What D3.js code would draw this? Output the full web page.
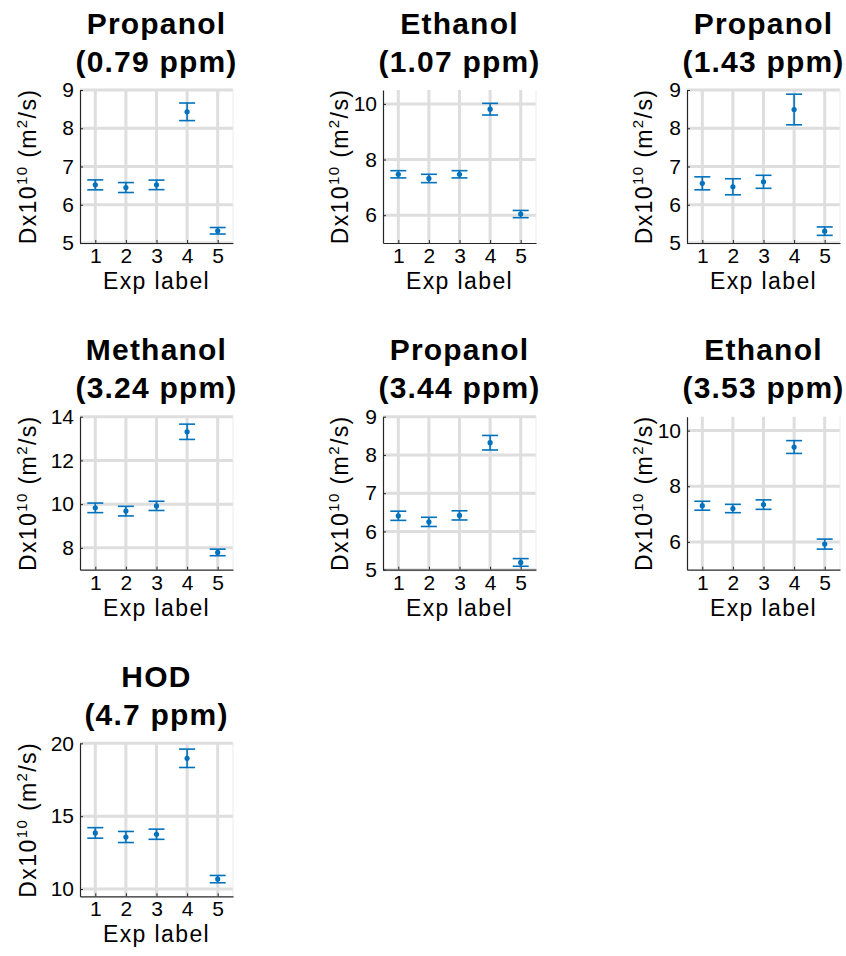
<!DOCTYPE html>
<html>
<head>
<meta charset="utf-8">
<script src="https://cdn.jsdelivr.net/npm/d3@7/dist/d3.min.js"></script>
<style>
  html, body { margin: 0; padding: 0; background: #fff; }
  svg { display: block; }
  text { font-family: "Liberation Sans", Arial, Helvetica, sans-serif; fill: #000; }
</style>
</head>
<body>
<svg id="chart" width="846" height="956"></svg>
<script>
// ---------- data ----------
const expLabels = [1, 2, 3, 4, 5];
const compounds = ["Propanol", "Ethanol", "Propanol", "Methanol", "Propanol", "Ethanol", "HOD"];
const shifts = ["(0.79 ppm)", "(1.07 ppm)", "(1.43 ppm)", "(3.24 ppm)", "(3.44 ppm)", "(3.53 ppm)", "(4.7 ppm)"];

const dPropanol079 = [6.52, 6.45, 6.52, 8.43, 5.32];
const ePropanol079 = [0.13, 0.13, 0.125, 0.23, 0.085];
const dEthanol107  = [7.47, 7.32, 7.47, 9.81, 6.04];
const eEthanol107  = [0.13, 0.15, 0.13, 0.21, 0.13];
const dPropanol143 = [6.56, 6.47, 6.60, 8.49, 5.31];
const ePropanol143 = [0.17, 0.21, 0.17, 0.40, 0.11];
const dMethanol324 = [9.83, 9.68, 9.92, 13.31, 7.79];
const eMethanol324 = [0.22, 0.22, 0.21, 0.35, 0.15];
const dPropanol344 = [6.41, 6.25, 6.42, 8.32, 5.19];
const ePropanol344 = [0.12, 0.12, 0.12, 0.19, 0.10];
const dEthanol353  = [7.30, 7.20, 7.34, 9.41, 5.92];
const eEthanol353  = [0.16, 0.15, 0.17, 0.23, 0.18];
const dHOD47       = [13.85, 13.57, 13.76, 18.97, 10.68];
const eHOD47       = [0.36, 0.38, 0.35, 0.63, 0.25];

const yDomains = [[5, 9], [5, 10.5], [5, 9], [7, 14], [5, 9], [5, 10.5], [9.5, 20]];
const yTicks = [[5, 6, 7, 8, 9], [6, 8, 10], [5, 6, 7, 8, 9], [8, 10, 12, 14], [5, 6, 7, 8, 9], [6, 8, 10], [10, 15, 20]];

const means = [dPropanol079, dEthanol107, dPropanol143, dMethanol324, dPropanol344, dEthanol353, dHOD47];
const errs  = [ePropanol079, eEthanol107, ePropanol143, eMethanol324, ePropanol344, eEthanol353, eHOD47];

// ---------- layout ----------
const colLeft = [80, 383, 687];
const rowTop = [90, 416.7, 743.3];
const W = 153, H = 153;
const ylabOffset = [52.5, 43, 43];
const blue = "#0072BD";
const gridColor = "#dedede";

const svg = d3.select("#chart");

compounds.forEach((name, i) => {
  const col = i % 3, row = Math.floor(i / 3);
  const left = colLeft[col], top = rowTop[row];
  const x = d3.scaleLinear().domain([0.5, 5.5]).range([left, left + W]);
  const y = d3.scaleLinear().domain(yDomains[i]).range([top + H, top]);
  const g = svg.append("g");

  // grid
  g.selectAll("line.vg").data(expLabels).enter().append("line")
    .attr("x1", d => x(d)).attr("x2", d => x(d))
    .attr("y1", top).attr("y2", top + H)
    .attr("stroke", gridColor).attr("stroke-width", 3);
  g.selectAll("line.hg").data(yTicks[i]).enter().append("line")
    .attr("x1", left).attr("x2", left + W)
    .attr("y1", d => y(d)).attr("y2", d => y(d))
    .attr("stroke", gridColor).attr("stroke-width", 3);
  // faint right edge
  g.append("line").attr("x1", left + W).attr("x2", left + W)
    .attr("y1", top).attr("y2", top + H)
    .attr("stroke", "#ececec").attr("stroke-width", 1);

  // axes
  const ax = g.append("g").attr("transform", `translate(0,${top + H})`)
    .call(d3.axisBottom(x).tickValues(expLabels).tickFormat(d3.format("d"))
      .tickSizeInner(-3).tickSizeOuter(0).tickPadding(5));
  const ay = g.append("g").attr("transform", `translate(${left},0)`)
    .call(d3.axisLeft(y).tickValues(yTicks[i]).tickFormat(d3.format("d"))
      .tickSizeInner(-3).tickSizeOuter(0).tickPadding(6));
  [ax, ay].forEach(a => {
    a.select(".domain").attr("stroke", "#262626").attr("stroke-width", 1.2);
    a.selectAll(".tick line").attr("stroke", "#262626");
    a.selectAll(".tick text").style("font-size", "21px")
      .style("font-family", "'Liberation Sans', Arial, sans-serif").attr("fill", "#262626");
  });

  // error bars
  const pts = expLabels.map((e, k) => ({ e, m: means[i][k], s: errs[i][k] }));
  const cap = 8;
  const eb = g.append("g").attr("stroke", blue).attr("stroke-width", 1.6).attr("fill", "none");
  eb.selectAll("line.v").data(pts).enter().append("line")
    .attr("x1", d => x(d.e)).attr("x2", d => x(d.e))
    .attr("y1", d => y(d.m + d.s)).attr("y2", d => y(d.m - d.s));
  eb.selectAll("line.t").data(pts).enter().append("line")
    .attr("x1", d => x(d.e) - cap).attr("x2", d => x(d.e) + cap)
    .attr("y1", d => y(d.m + d.s)).attr("y2", d => y(d.m + d.s));
  eb.selectAll("line.b").data(pts).enter().append("line")
    .attr("x1", d => x(d.e) - cap).attr("x2", d => x(d.e) + cap)
    .attr("y1", d => y(d.m - d.s)).attr("y2", d => y(d.m - d.s));
  g.selectAll("circle").data(pts).enter().append("circle")
    .attr("cx", d => x(d.e)).attr("cy", d => y(d.m)).attr("r", 2.6)
    .attr("fill", blue);

  // titles
  const cx = left + W / 2;
  g.append("text").attr("x", cx).attr("y", top - 56.5).attr("text-anchor", "middle")
    .style("font-size", "30px").style("font-weight", "bold").style("letter-spacing", "1.2px")
    .text(name);
  g.append("text").attr("x", cx).attr("y", top - 18.5).attr("text-anchor", "middle")
    .style("font-size", "30px").style("font-weight", "bold").style("letter-spacing", "1.2px")
    .text(shifts[i]);

  // x label
  g.append("text").attr("x", cx).attr("y", top + H + 46).attr("text-anchor", "middle")
    .style("font-size", "23px").style("letter-spacing", "1.4px").attr("fill", "#262626")
    .text("Exp label");

  // y label
  const yl = g.append("text")
    .attr("transform", `translate(${left - ylabOffset[col] + 8},${top + H / 2}) rotate(-90)`)
    .attr("text-anchor", "middle")
    .style("font-size", "23px").style("letter-spacing", "1.4px").attr("fill", "#262626");
  yl.append("tspan").text("Dx10");
  yl.append("tspan").attr("dy", -9).style("font-size", "15px").text("10");
  yl.append("tspan").attr("dy", 9).text(" (m");
  yl.append("tspan").attr("dy", -9).style("font-size", "15px").text("2");
  yl.append("tspan").attr("dy", 9).text("/s)");
});
</script>
</body>
</html>
